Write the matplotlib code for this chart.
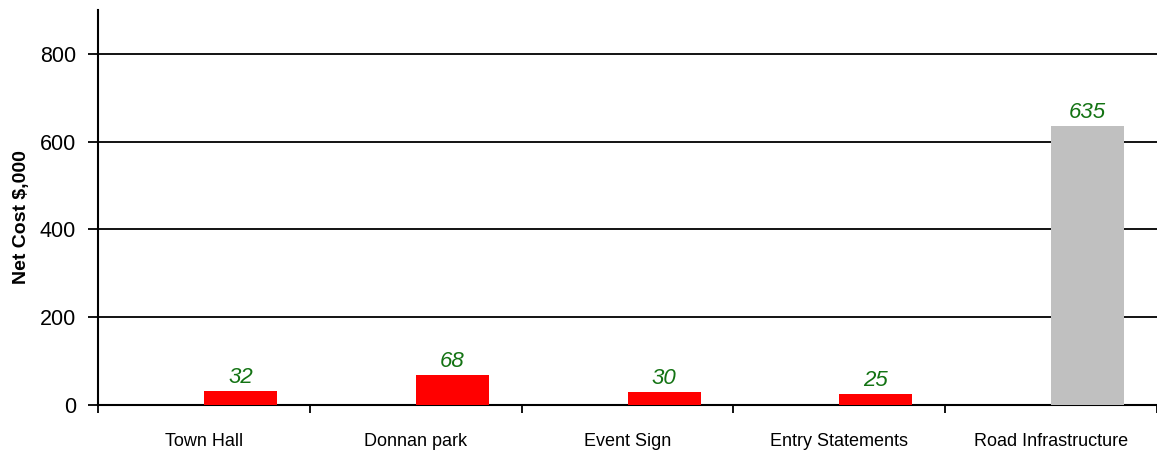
import matplotlib
matplotlib.use("Agg")
import matplotlib.pyplot as plt
import numpy as np

categories = ["Town Hall", "Donnan park", "Event Sign", "Entry Statements", "Road Infrastructure"]
net_cost = [32, 68, 30, 25, 635]
bar_colors = ["#ff0000", "#ff0000", "#ff0000", "#ff0000", "#c0c0c0"]

plt.rcParams['font.family'] = ['Liberation Sans', 'DejaVu Sans']

fig = plt.figure(figsize=(11.57, 4.58), dpi=100)
ax = fig.add_axes([98/1157, 53/458, 1 - 98/1157, 395/458])

x = np.arange(len(categories))
ax.bar(x, net_cost, width=0.345, align='edge', color=bar_colors, zorder=3)
for xi, v in zip(x, net_cost):
    ax.text(xi + 0.1725, v + 7, str(v), ha='center', va='bottom',
            color='#137313', fontsize=16, style='italic', zorder=4)

ax.set_xlim(-0.5, 4.5)
ax.set_ylim(0, 900)
ax.set_yticks([0, 200, 400, 600, 800])
ax.yaxis.grid(True, color='black', linewidth=1.3, zorder=1)
ax.set_axisbelow(True)

ax.set_xticks(x)
ax.set_xticklabels(categories, fontsize=13)
ax.tick_params(axis='x', length=0, pad=20)
ax.set_xticks(np.arange(-0.5, 4.6, 1), minor=True)
ax.tick_params(axis='x', which='minor', length=6, width=1.3, direction='out')
ax.tick_params(axis='y', labelsize=15.5, length=7, width=1.3, pad=9)

for s in ['top', 'right']:
    ax.spines[s].set_visible(False)
ax.spines['left'].set_linewidth(1.5)
ax.spines['bottom'].set_linewidth(1.5)

ax.set_ylabel("Net Cost $,000", fontsize=14, fontweight='bold')
ax.yaxis.set_label_coords(-0.064, 0.476)

fig.savefig("out.png", dpi=100)
